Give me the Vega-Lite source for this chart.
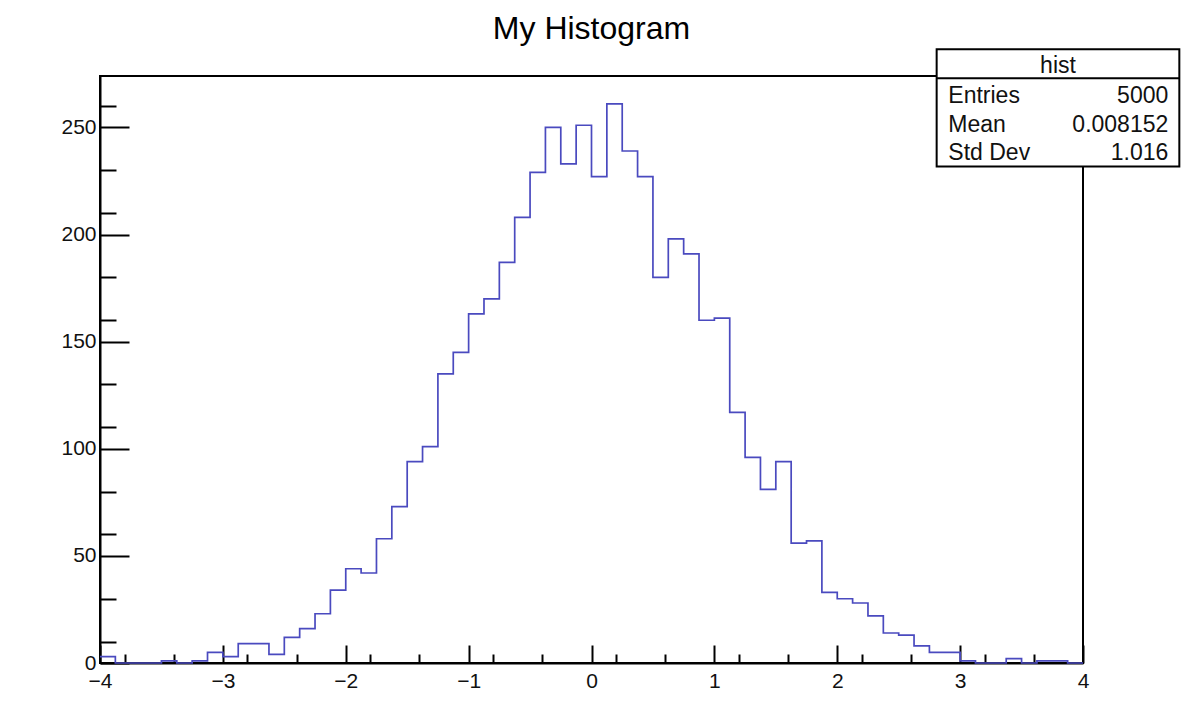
{
  "$schema": "https://vega.github.io/schema/vega-lite/v6.json",
  "width": 983,
  "height": 587,
  "autosize": {"type": "none"},
  "padding": {"left": 100, "top": 76, "right": 110, "bottom": 48},
  "background": "white",
  "title": {
    "text": "My Histogram",
    "font": "Liberation Sans",
    "fontSize": 32,
    "fontWeight": "normal",
    "color": "black",
    "anchor": "middle",
    "frame": "group",
    "baseline": "alphabetic",
    "offset": -23
  },
  "config": {
    "view": {"stroke": "black", "strokeWidth": 2},
    "axis": {
      "domainColor": "black",
      "domainWidth": 2,
      "tickColor": "black",
      "tickWidth": 2,
      "grid": false,
      "labelFont": "Liberation Sans",
      "labelFontSize": 21,
      "labelColor": "#111",
      "labelFlush": false,
      "labelOverlap": false
    }
  },
  "layer": [
    {
      "data": {
        "values": [
          {"x": -4, "n": 3}, {"x": -3.875, "n": 0}, {"x": -3.75, "n": 0}, {"x": -3.625, "n": 0},
          {"x": -3.5, "n": 1}, {"x": -3.375, "n": 0}, {"x": -3.25, "n": 1}, {"x": -3.125, "n": 5},
          {"x": -3.0, "n": 3}, {"x": -2.875, "n": 9}, {"x": -2.75, "n": 9}, {"x": -2.625, "n": 4},
          {"x": -2.5, "n": 12}, {"x": -2.375, "n": 16}, {"x": -2.25, "n": 23}, {"x": -2.125, "n": 34},
          {"x": -2.0, "n": 44}, {"x": -1.875, "n": 42}, {"x": -1.75, "n": 58}, {"x": -1.625, "n": 73},
          {"x": -1.5, "n": 94}, {"x": -1.375, "n": 101}, {"x": -1.25, "n": 135}, {"x": -1.125, "n": 145},
          {"x": -1.0, "n": 163}, {"x": -0.875, "n": 170}, {"x": -0.75, "n": 187}, {"x": -0.625, "n": 208},
          {"x": -0.5, "n": 229}, {"x": -0.375, "n": 250}, {"x": -0.25, "n": 233}, {"x": -0.125, "n": 251},
          {"x": 0, "n": 227}, {"x": 0.125, "n": 261}, {"x": 0.25, "n": 239}, {"x": 0.375, "n": 227},
          {"x": 0.5, "n": 180}, {"x": 0.625, "n": 198}, {"x": 0.75, "n": 191}, {"x": 0.875, "n": 160},
          {"x": 1.0, "n": 161}, {"x": 1.125, "n": 117}, {"x": 1.25, "n": 96}, {"x": 1.375, "n": 81},
          {"x": 1.5, "n": 94}, {"x": 1.625, "n": 56}, {"x": 1.75, "n": 57}, {"x": 1.875, "n": 33},
          {"x": 2.0, "n": 30}, {"x": 2.125, "n": 28}, {"x": 2.25, "n": 22}, {"x": 2.375, "n": 14},
          {"x": 2.5, "n": 13}, {"x": 2.625, "n": 8}, {"x": 2.75, "n": 5}, {"x": 2.875, "n": 5},
          {"x": 3.0, "n": 1}, {"x": 3.125, "n": 0}, {"x": 3.25, "n": 0}, {"x": 3.375, "n": 2},
          {"x": 3.5, "n": 0}, {"x": 3.625, "n": 1}, {"x": 3.75, "n": 1}, {"x": 3.875, "n": 0},
          {"x": 4, "n": 0}
        ]
      },
      "mark": {"type": "line", "interpolate": "step-after", "stroke": "#4a4abf", "strokeWidth": 1.7},
      "encoding": {
        "x": {
          "field": "x", "type": "quantitative",
          "scale": {"domain": [-4, 4], "nice": false, "zero": false},
          "axis": {
            "title": null, "orient": "bottom",
            "values": [-4, -3, -2, -1, 0, 1, 2, 3, 4],
            "tickSize": -18, "labelPadding": 42, "labelBaseline": "alphabetic"
          }
        },
        "y": {
          "field": "n", "type": "quantitative",
          "scale": {"domain": [0, 274], "nice": false},
          "axis": {
            "title": null, "orient": "left",
            "values": [0, 50, 100, 150, 200, 250],
            "tickSize": -29, "labelPadding": 33
          }
        }
      }
    },
    {
      "data": {"values": [{"name": "hist"}]},
      "layer": [
        {
          "mark": {"type": "rect", "fill": "white", "stroke": "black", "strokeWidth": 2},
          "encoding": {
            "x": {
              "datum": 2.809, "type": "quantitative",
              "scale": {"domain": [-4, 4], "nice": false, "zero": false},
              "axis": {
                "title": null, "orient": "bottom", "labels": false, "domain": false,
                "values": [-3.8, -3.6, -3.4, -3.2, -2.8, -2.6, -2.4, -2.2, -1.8, -1.6, -1.4, -1.2, -0.8, -0.6, -0.4, -0.2, 0.2, 0.4, 0.6, 0.8, 1.2, 1.4, 1.6, 1.8, 2.2, 2.4, 2.6, 2.8, 3.2, 3.4, 3.6, 3.8],
                "tickSize": -9
              }
            },
            "x2": {"datum": 4.784},
            "y": {
              "datum": 286.5, "type": "quantitative",
              "scale": {"domain": [0, 274], "nice": false},
              "axis": {
                "title": null, "orient": "left", "labels": false, "domain": false,
                "values": [10, 20, 30, 40, 60, 70, 80, 90, 110, 120, 130, 140, 160, 170, 180, 190, 210, 220, 230, 240, 260, 270],
                "tickSize": -16
              }
            },
            "y2": {"datum": 231.7}
          }
        },
        {
          "mark": {"type": "rule", "stroke": "black", "strokeWidth": 2},
          "encoding": {
            "x": {"datum": 2.809, "type": "quantitative"},
            "x2": {"datum": 4.784},
            "y": {"datum": 272.9, "type": "quantitative"}
          }
        },
        {
          "mark": {"type": "text", "font": "Liberation Sans", "fontSize": 23, "color": "#111", "align": "center", "baseline": "alphabetic"},
          "encoding": {
            "x": {"datum": 3.7965, "type": "quantitative"},
            "y": {"datum": 275.3, "type": "quantitative"},
            "text": {"field": "name"}
          }
        }
      ]
    },
    {
      "data": {
        "values": [
          {"stat": "Entries", "value": "5000"},
          {"stat": "Mean", "value": "0.008152"},
          {"stat": "Std Dev", "value": "1.016"}
        ]
      },
      "encoding": {
        "y": {
          "field": "stat", "type": "nominal", "sort": null,
          "scale": {"range": [27.3, 84], "padding": 0},
          "axis": null
        }
      },
      "layer": [
        {
          "mark": {"type": "text", "font": "Liberation Sans", "fontSize": 23, "color": "#111", "align": "left", "baseline": "alphabetic"},
          "encoding": {
            "x": {"datum": 2.904, "type": "quantitative", "scale": {"domain": [-4, 4], "nice": false, "zero": false}, "axis": null},
            "text": {"field": "stat"}
          }
        },
        {
          "mark": {"type": "text", "font": "Liberation Sans", "fontSize": 23, "color": "#111", "align": "right", "baseline": "alphabetic"},
          "encoding": {
            "x": {"datum": 4.694, "type": "quantitative", "scale": {"domain": [-4, 4], "nice": false, "zero": false}, "axis": null},
            "text": {"field": "value"}
          }
        }
      ]
    }
  ],
  "resolve": {"scale": {"y": "independent"}, "axis": {"x": "independent", "y": "independent"}}
}
